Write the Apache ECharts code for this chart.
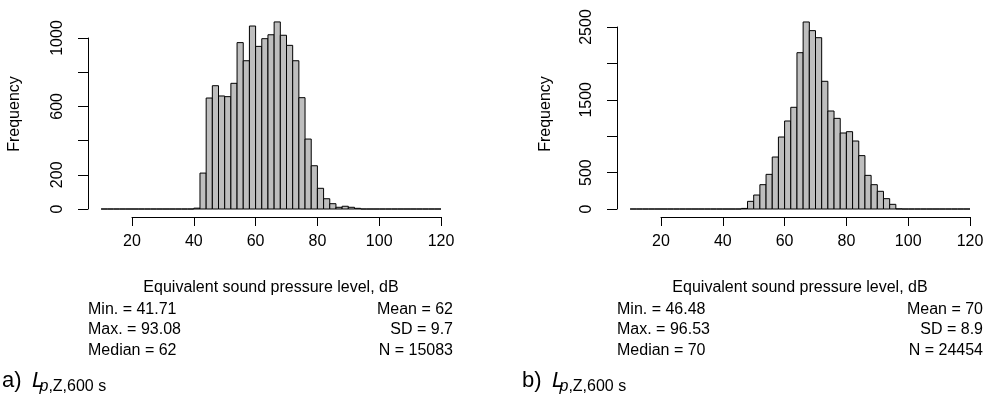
<!DOCTYPE html>
<html>
<head>
<meta charset="utf-8">
<script src="https://cdn.jsdelivr.net/npm/echarts@6/dist/echarts.min.js"></script>
<style>html,body{margin:0;padding:0;background:#fff}#c{width:987px;height:399px}</style>
</head>
<body>
<div id="c"></div>
<script>
// ---- data ----
const BIN_START = 10;   // dB, first bin edge
const BIN_WIDTH = 2;    // dB
const countsA = [0,0,0,0,0,0,0,0,0,0,0,0,0,0,0,
  5,210,649,721,661,657,735,973,867,1070,951,996,1019,1094,1016,957,867,651,409,253,121,60,31,10,16,10,4,
  0,0,0,0,0,0,0,0,0,0,0,0,0];
const countsB = [0,0,0,0,0,0,0,0,0,0,0,0,0,0,0,0,0,0,
  8,105,192,334,476,714,989,1209,1397,2147,2569,2450,2353,1754,1346,1245,1044,1062,934,733,462,334,243,142,64,2,
  0,0,0,0,0,0,0,0,0,0,0];
const xTicks = [20, 40, 60, 80, 100, 120];
const yLabelsA = [0, 200, 600, 1000];
const yLabelsB = [0, 500, 1500, 2500];
const xTitle = 'Equivalent sound pressure level, dB';
const yTitle = 'Frequency';
const statsA = {min:'41.71', max:'93.08', median:'62', mean:'62', sd:'9.7', n:'15083'};
const statsB = {min:'46.48', max:'96.53', median:'70', mean:'70', sd:'8.9', n:'24454'};
const panelTags = ['a)', 'b)'];

// ---- build ----
const FONT = '"Liberation Sans", Arial, Helvetica, sans-serif';
const XMIN = xTicks[0], XMAX = xTicks[xTicks.length-1];
function binData(counts){
  return counts.map((c,i)=>[BIN_START+i*BIN_WIDTH, BIN_START+(i+1)*BIN_WIDTH, c]);
}
function renderBar(params, api){
  const p0 = api.coord([api.value(0), api.value(2)]);
  const p1 = api.coord([api.value(1), 0]);
  return {
    type:'rect',
    shape:{x:p0[0], y:p0[1], width:p1[0]-p0[0], height:p1[1]-p0[1]},
    style:{fill:'#bebebe', stroke:'#000', lineWidth:1}
  };
}
function xDataAxis(gi){
  return {gridIndex:gi, type:'value', min:XMIN, max:XMAX, show:false};
}
function xVisAxis(gi){
  return {
    gridIndex:gi, type:'value', min:XMIN, max:XMAX, interval:20,
    axisLine:{show:true, onZero:false, lineStyle:{color:'#000', width:1}},
    axisTick:{show:true, length:9, lineStyle:{color:'#000', width:1}},
    axisLabel:{show:true, color:'#000', fontSize:16, fontFamily:FONT, margin:17},
    splitLine:{show:false}
  };
}
function yAxisCfg(gi, max, interval, shown){
  return {
    gridIndex:gi, type:'value', min:0, max:max, interval:interval, offset:44,
    axisLine:{show:true, onZero:false, lineStyle:{color:'#000', width:1}},
    axisTick:{show:true, length:10, lineStyle:{color:'#000'}},
    axisLabel:{show:true, rotate:90, color:'#000', fontSize:16, fontFamily:FONT, margin:22,
      formatter:v=> shown.indexOf(v)>=0 ? String(v) : ''},
    splitLine:{show:false}
  };
}
function yHidden(gi){
  return {gridIndex:gi, type:'value', min:0, max:1, show:false};
}
function txt(x,y,text,opt){
  return {type:'text', x:x, y:y, style:Object.assign({text:text, fill:'#000', font:'16px '+FONT, textAlign:'left', textVerticalAlign:'middle'}, opt||{})};
}
function panelGraphics(dx, xc, leftX, rightX, s, tag, freqX){
  const g = [];
  g.push(Object.assign(txt(freqX, 114, yTitle, {textAlign:'center'}), {rotation:Math.PI/2}));
  g.push(txt(xc, 287.5, xTitle, {textAlign:'center'}));
  g.push(txt(leftX, 309.5, 'Min. = '+s.min));
  g.push(txt(leftX, 330, 'Max. = '+s.max));
  g.push(txt(leftX, 350.5, 'Median = '+s.median));
  g.push(txt(rightX, 309.5, 'Mean = '+s.mean, {textAlign:'right'}));
  g.push(txt(rightX, 330, 'SD = '+s.sd, {textAlign:'right'}));
  g.push(txt(rightX, 350.5, 'N = '+s.n, {textAlign:'right'}));
  g.push(txt(dx+2, 380.6, tag, {font:'22px '+FONT}));
  g.push(txt(dx+32, 380.6, 'L', {font:'italic 22px '+FONT}));
  g.push(txt(dx+39.5, 386.7, 'p', {font:'italic 16px '+FONT}));
  g.push(txt(dx+48.4, 386.7, ',Z,600 s', {font:'16px '+FONT}));
  return g;
}

const chart = echarts.init(document.getElementById('c'), null, {renderer:'canvas'});
chart.setOption({
  animation:false,
  backgroundColor:'#fff',
  grid:[
    {left:132, top:38, width:309, height:171},
    {left:661, top:27, width:309, height:182},
    {left:132, top:38, width:309, height:179},
    {left:661, top:27, width:309, height:190}
  ],
  xAxis:[xDataAxis(0), xDataAxis(1), xVisAxis(2), xVisAxis(3)],
  yAxis:[yAxisCfg(0, 1000, 200, yLabelsA), yAxisCfg(1, 2500, 500, yLabelsB), yHidden(2), yHidden(3)],
  series:[
    {type:'custom', xAxisIndex:0, yAxisIndex:0, clip:false, renderItem:renderBar, data:binData(countsA), encode:{x:[0,1], y:2}},
    {type:'custom', xAxisIndex:1, yAxisIndex:1, clip:false, renderItem:renderBar, data:binData(countsB), encode:{x:[0,1], y:2}}
  ],
  graphic:[].concat(
    panelGraphics(0, 271, 88, 453, statsA, panelTags[0], 15),
    panelGraphics(520, 800, 617, 983, statsB, panelTags[1], 546)
  )
});
</script>
</body>
</html>
